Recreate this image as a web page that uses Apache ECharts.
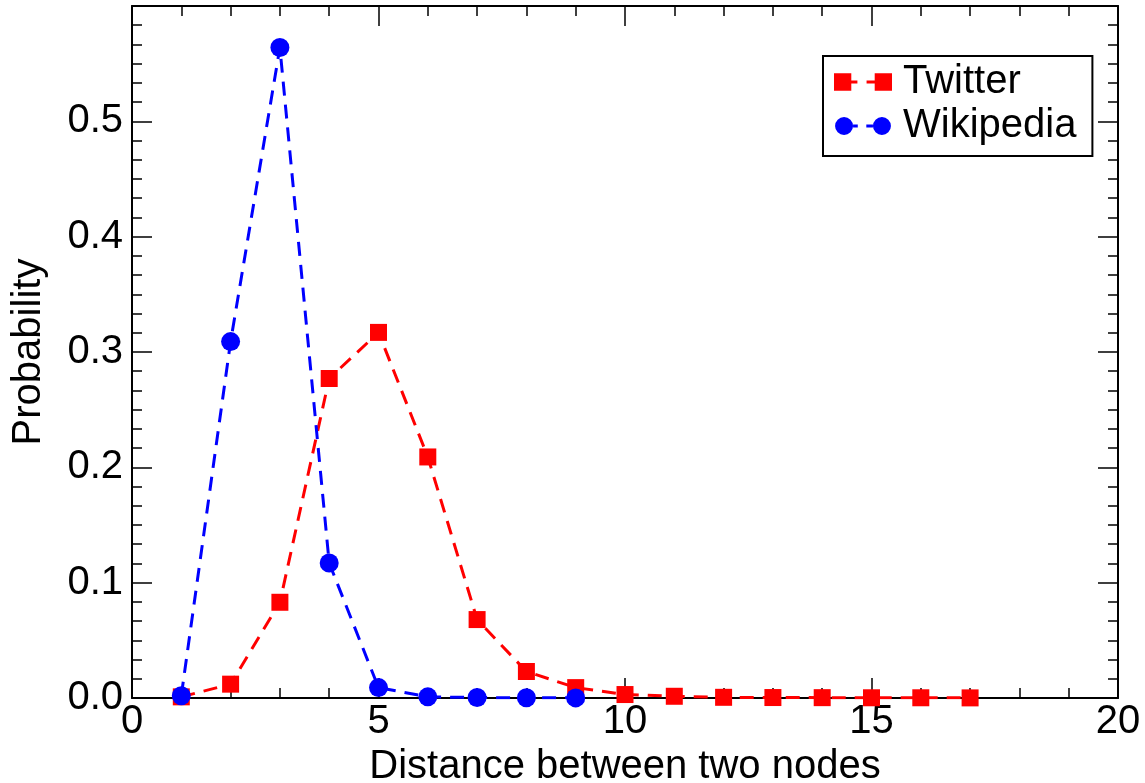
<!DOCTYPE html>
<html>
<head>
<meta charset="utf-8">
<script src="https://cdn.jsdelivr.net/npm/echarts@6/dist/echarts.min.js"></script>
<style>
html,body{margin:0;padding:0;background:#fff;}
#chart{width:1145px;height:783px;}
</style>
</head>
<body>
<div id="chart"></div>
<script>
var twitterX = [1, 2, 3, 4, 5, 6, 7, 8, 9, 10, 11, 12, 13, 14, 15, 16, 17];
var twitterY = [0.001, 0.012, 0.083, 0.277, 0.317, 0.209, 0.068, 0.023, 0.009, 0.003, 0.0015, 0.0006, 0.0004, 0.0003, 0.0002, 0.0002, 0.0001];
var wikiX = [1, 2, 3, 4, 5, 6, 7, 8, 9];
var wikiY = [0.002, 0.309, 0.564, 0.117, 0.009, 0.001, 0.0004, 0.0002, 0.0001];
var seriesNames = ['Twitter', 'Wikipedia'];
var xAxisTitle = 'Distance between two nodes';
var yAxisTitle = 'Probability';

function pairs(xs, ys) { return xs.map(function (x, i) { return [x, ys[i]]; }); }

var FONT = 'Liberation Sans, Arial, Helvetica, sans-serif';
var sqIcon = 'path://M0,0h17v17h-17z M17,7h6v3h-6z M32,7h8v3h-8z M40,0h17v17h-17z';
var ciIcon = 'path://M0,9.5a9.5,9.5 0 1,0 19,0a9.5,9.5 0 1,0 -19,0z M19,8h5v3h-5z M33,8h7v3h-7z M40,9.5a9.5,9.5 0 1,0 19,0a9.5,9.5 0 1,0 -19,0z';

function axisBase(extra) {
  var base = {
    type: 'value',
    axisLine: { show: true, onZero: false, lineStyle: { color: '#000', width: 2 } },
    axisTick: { show: true, inside: true, length: 20, lineStyle: { color: '#000', width: 1.5 } },
    minorTick: { show: true, length: 10, lineStyle: { color: '#000', width: 1.5 } },
    splitLine: { show: false },
    minorSplitLine: { show: false }
  };
  for (var k in extra) base[k] = extra[k];
  return base;
}

var chart = echarts.init(document.getElementById('chart'));
chart.setOption({
  animation: false,
  backgroundColor: '#fff',
  textStyle: { fontFamily: FONT },
  grid: { left: 132, right: 27, top: 6, bottom: 85, containLabel: false, outerBoundsMode: 'none' },
  legend: {
    left: 823, top: 56, orient: 'vertical',
    backgroundColor: '#fff', borderColor: '#000', borderWidth: 2,
    padding: [4, 16, 8, 11], itemGap: 0, itemWidth: 58, itemHeight: 18,
    textStyle: { fontSize: 40, color: '#000', fontFamily: FONT, lineHeight: 44, padding: [0, 0, 0, 6] },
    itemStyle: { borderWidth: 0 },
    data: [
      { name: seriesNames[0], icon: sqIcon },
      { name: seriesNames[1], icon: ciIcon }
    ]
  },
  xAxis: [
    axisBase({
      position: 'bottom', min: 0, max: 20, interval: 5,
      minorTick: { show: true, splitNumber: 5, length: 10, lineStyle: { color: '#000', width: 1.5 } },
      axisLabel: { show: true, color: '#000', fontSize: 40, margin: 4, fontFamily: FONT },
      name: xAxisTitle, nameLocation: 'middle', nameGap: 42,
      nameTextStyle: { fontSize: 40, color: '#000', fontFamily: FONT }
    }),
    axisBase({
      position: 'top', min: 0, max: 20, interval: 5,
      minorTick: { show: true, splitNumber: 5, length: 10, lineStyle: { color: '#000', width: 1.5 } },
      axisLabel: { show: false }
    })
  ],
  yAxis: [
    axisBase({
      position: 'left', min: 0, max: 0.6, interval: 0.1,
      minorTick: { show: true, splitNumber: 6, length: 10, lineStyle: { color: '#000', width: 1.5 } },
      axisLabel: {
        show: true, color: '#000', fontSize: 40, margin: 9, fontFamily: FONT,
        formatter: function (v) { return v > 0.55 ? '' : v.toFixed(1); }
      },
      name: yAxisTitle, nameLocation: 'middle', nameGap: 83,
      nameTextStyle: { fontSize: 40, color: '#000', fontFamily: FONT }
    }),
    axisBase({
      position: 'right', min: 0, max: 0.6, interval: 0.1,
      minorTick: { show: true, splitNumber: 6, length: 10, lineStyle: { color: '#000', width: 1.5 } },
      axisLabel: { show: false }
    })
  ],
  series: [
    {
      name: seriesNames[0], type: 'line', xAxisIndex: 0, yAxisIndex: 0,
      data: pairs(twitterX, twitterY),
      symbol: 'rect', symbolSize: 17,
      itemStyle: { color: '#ff0000' },
      lineStyle: { color: '#ff0000', width: 3, type: [14, 9] },
      z: 2
    },
    {
      name: seriesNames[1], type: 'line', xAxisIndex: 0, yAxisIndex: 0,
      data: pairs(wikiX, wikiY),
      symbol: 'circle', symbolSize: 19,
      itemStyle: { color: '#0000ff' },
      lineStyle: { color: '#0000ff', width: 3, type: [14, 9] },
      z: 3
    }
  ]
});
</script>
</body>
</html>
